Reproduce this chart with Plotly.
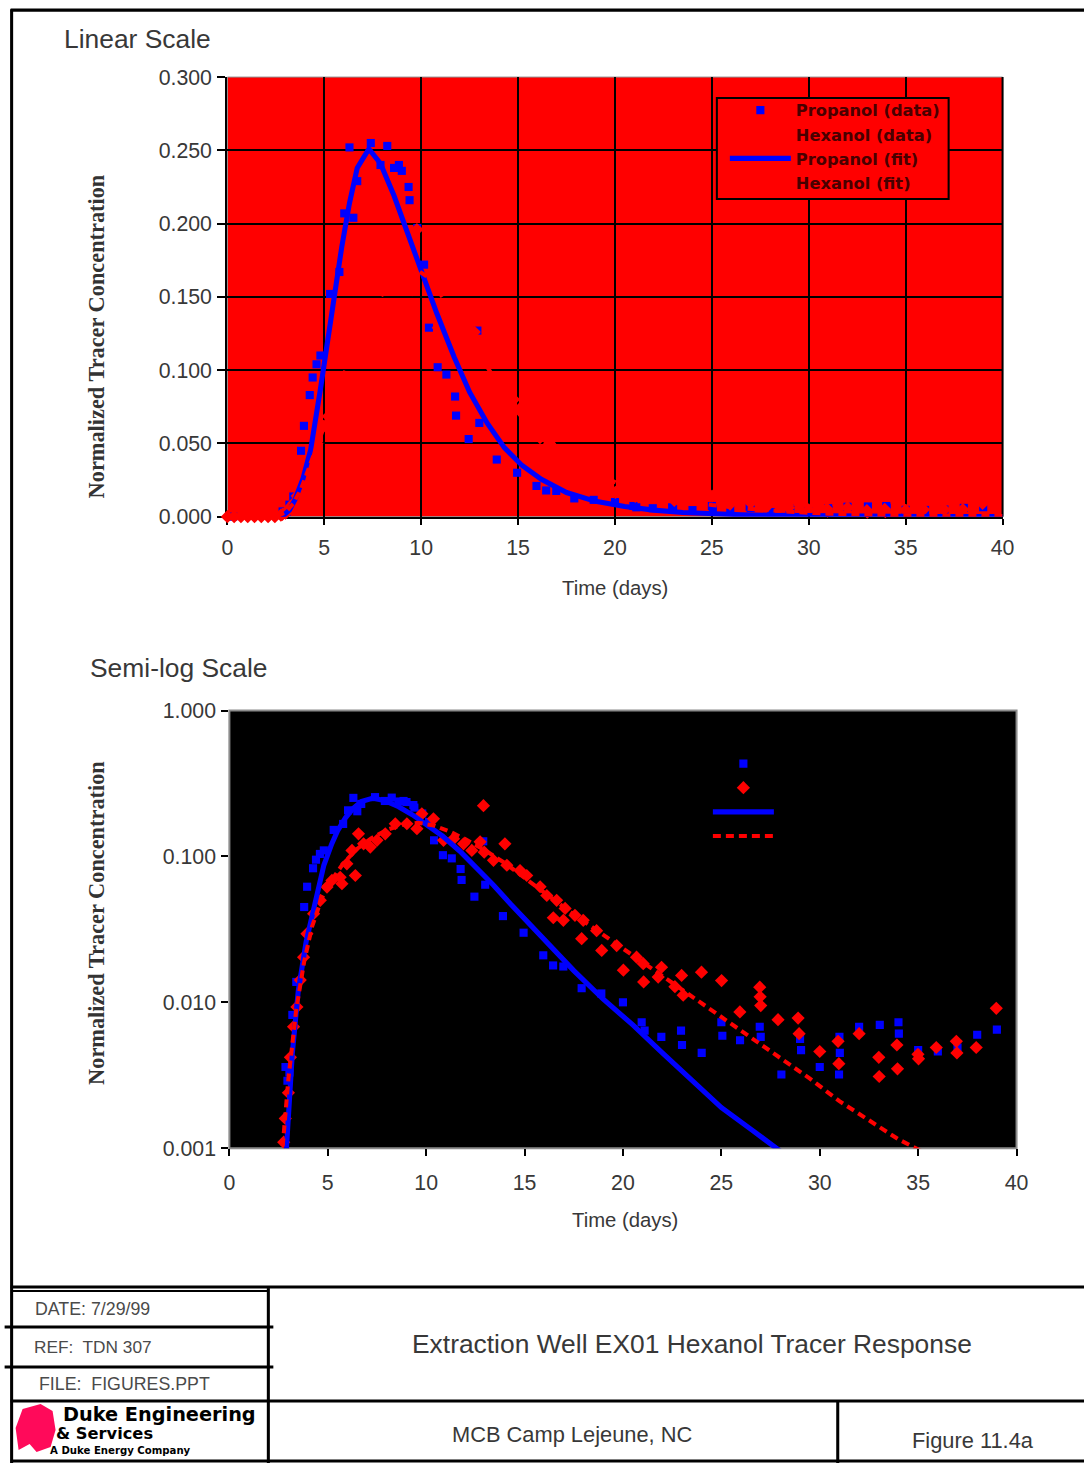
import plotly.graph_objects as go

# ---------------------------------------------------------------------------
# Tracer breakthrough at extraction well EX01 (time in days, C/C0)
# ---------------------------------------------------------------------------
propanol_t = [0.3, 2.85, 2.95, 3.05, 3.2, 3.4, 3.8, 3.95, 4.25, 4.4, 4.6, 4.8,
              5.3, 5.78, 6.03, 6.3, 6.5, 6.7, 7.4, 7.9, 8.25, 8.6, 8.85, 9.0,
              9.35, 9.4, 9.8, 10.15, 10.4, 10.85, 11.3, 11.75, 11.8, 12.45,
              12.9, 13.0, 13.9, 14.95, 15.95, 16.45, 16.97, 17.9, 18.9, 20.0,
              20.95, 21.1, 21.95, 22.95, 23.0, 24.0, 25.0, 25.05, 25.95, 26.95,
              27.0, 28.05, 29.0, 29.05, 30.0, 30.98, 31.0, 31.02, 32.0, 33.05,
              34.0, 34.02, 35.0, 36.0, 37.0, 38.0, 39.0]
propanol_c = [0.0, 0.0036, 0.0029, 0.0033, 0.0082, 0.0138, 0.045, 0.062, 0.083,
              0.095, 0.104, 0.110, 0.152, 0.167, 0.207, 0.252, 0.204, 0.229,
              0.255, 0.240, 0.253, 0.238, 0.240, 0.236, 0.225, 0.216, 0.197,
              0.172, 0.129, 0.102, 0.097, 0.082, 0.069, 0.053, 0.127, 0.064,
              0.039, 0.030, 0.021, 0.0179, 0.0176, 0.0125, 0.0115, 0.0100,
              0.0073, 0.0064, 0.0058, 0.0064, 0.0051, 0.0045, 0.0073, 0.0059,
              0.0055, 0.0068, 0.0058, 0.0032, 0.0056, 0.0047, 0.0036, 0.0032,
              0.0058, 0.0045, 0.0068, 0.0070, 0.0073, 0.0061, 0.0047, 0.0046,
              0.0049, 0.0060, 0.0065]

hexanol_t = [0.0, 0.35, 0.7, 1.05, 1.4, 1.75, 2.1, 2.45, 2.76, 2.84, 3.0, 3.1,
             3.26, 3.43, 3.6, 3.77, 3.94, 4.28, 4.62, 4.96, 5.21, 5.63, 5.72,
             5.97, 6.23, 6.4, 6.56, 6.82, 7.16, 7.5, 7.92, 8.43, 9.02, 9.53,
             9.78, 10.37, 10.88, 11.39, 11.9, 12.32, 12.74, 12.91, 12.95,
             13.42, 14.0, 14.1, 14.77, 15.11, 15.79, 16.13, 16.46, 16.63,
             16.97, 17.06, 17.56, 17.9, 17.98, 18.66, 18.92, 19.68, 20.02,
             20.69, 21.03, 21.05, 21.79, 21.96, 22.64, 22.98, 23.06, 23.99,
             25.01, 25.94, 26.95, 26.97, 27.0, 27.88, 28.9, 28.95, 30.0, 30.93,
             30.97, 32.0, 33.0, 33.02, 33.92, 33.95, 34.99, 35.02, 35.92,
             36.94, 36.97, 37.95, 38.97]
hexanol_c = [0.0, 0.0, 0.0, 0.0, 0.0, 0.0, 0.0, 0.0, 0.0011, 0.0016, 0.0024,
             0.0042, 0.0068, 0.0093, 0.0142, 0.0204, 0.0295, 0.0405, 0.050,
             0.0617, 0.0685, 0.072, 0.065, 0.089, 0.110, 0.074, 0.143, 0.122,
             0.116, 0.129, 0.143, 0.1675, 0.1675, 0.155, 0.196, 0.181, 0.129,
             0.132, 0.122, 0.110, 0.126, 0.223, 0.107, 0.094, 0.122, 0.087,
             0.080, 0.074, 0.062, 0.054, 0.038, 0.050, 0.0365, 0.044, 0.0395,
             0.0273, 0.0365, 0.031, 0.0227, 0.0245, 0.0166, 0.0204, 0.0184,
             0.0138, 0.0149, 0.0174, 0.0128, 0.0153, 0.0112, 0.0161, 0.0141,
             0.0086, 0.0127, 0.0109, 0.0095, 0.0076, 0.0078, 0.0061, 0.0046,
             0.0054, 0.0038, 0.0061, 0.0042, 0.0031, 0.0051, 0.0035, 0.0044,
             0.0041, 0.0049, 0.0054, 0.0045, 0.0049, 0.0091]

propanol_fit_t = [2.75, 2.9, 3.2, 3.5, 3.9, 4.3, 4.8, 5.2, 5.5, 5.9, 6.3, 6.7,
                  7.3, 7.9, 8.6, 9.3, 10.0, 10.8, 11.7, 12.5, 13.4, 14.3, 15.2,
                  16.2, 17.5, 19.0, 20.5, 22.0, 23.5, 25.0, 26.5, 28.0, 30.0,
                  32.0, 34.0, 36.0, 38.0, 40.0]
propanol_fit_c = [0.0002, 0.001, 0.0045, 0.012, 0.026, 0.046, 0.087, 0.122,
                  0.150, 0.184, 0.214, 0.238, 0.251, 0.241, 0.219, 0.193,
                  0.167, 0.139, 0.109, 0.085, 0.064, 0.047, 0.035, 0.0255,
                  0.0165, 0.0105, 0.0070, 0.0045, 0.0029, 0.0019, 0.00135,
                  0.00095, 0.0006, 0.0004, 0.00025, 0.00016, 0.0001, 0.00006]

hexanol_fit_t = [2.55, 2.7, 3.0, 3.4, 3.8, 4.2, 4.7, 5.2, 5.8, 6.5, 7.2, 8.0,
                 8.8, 9.6, 10.4, 11.2, 12.0, 13.0, 14.0, 15.0, 16.0, 17.5, 19.0,
                 20.5, 22.0, 23.5, 25.0, 26.5, 28.0, 29.5, 31.0, 32.5, 34.0,
                 35.2, 37.0, 38.5, 40.0]
hexanol_fit_c = [0.0002, 0.001, 0.003, 0.009, 0.019, 0.033, 0.052, 0.069, 0.090,
                 0.113, 0.133, 0.152, 0.165, 0.170, 0.163, 0.148, 0.131, 0.110,
                 0.090, 0.071, 0.056, 0.040, 0.029, 0.021, 0.0152, 0.0110,
                 0.0080, 0.0058, 0.0042, 0.0030, 0.0021, 0.00155, 0.00115,
                 0.00095, 0.0007, 0.00055, 0.00043]

series_names = ["Propanol (data)", "Hexanol (data)", "Propanol (fit)", "Hexanol (fit)"]
time_ticks = [0, 5, 10, 15, 20, 25, 30, 35, 40]
linear_ticks = [0.0, 0.05, 0.10, 0.15, 0.20, 0.25, 0.30]
log_ticks = [0.001, 0.01, 0.1, 1.0]

# ---------------------------------------------------------------------------
# Sheet geometry. Positions below are given in sheet pixels; the sheet is
# captured at 1084 px across from a 1101 px wide page area, and the html
# body keeps its default 8 px margin around the figure.
SCALE = 1084 / 1101
BODY_MARGIN = 8
SHIFT_X, SHIFT_Y = 2.5, -3.0
W, H = 1092, 1478


def fx(px):
    return ((px + SHIFT_X) / SCALE - BODY_MARGIN) / W


def fy(py):
    return 1 - ((py + SHIFT_Y) / SCALE - BODY_MARGIN) / H


def k(v):
    return v / SCALE


BLUE = "#0000ff"
RED = "#ff0000"
TXT = "#383838"
SANS = "Liberation Sans, Arial, sans-serif"
SERIF = "Liberation Serif, Times New Roman, serif"

fig = go.Figure()


def add_series(xa, ya, legend, clip):
    fig.add_trace(go.Scatter(
        x=propanol_t, y=propanol_c, mode="markers", name=series_names[0],
        marker=dict(symbol="square", size=k(8), color=BLUE, line=dict(width=0)),
        xaxis=xa, yaxis=ya, legend=legend, cliponaxis=clip))
    fig.add_trace(go.Scatter(
        x=hexanol_t, y=hexanol_c, mode="markers", name=series_names[1],
        marker=dict(symbol="diamond", size=k(10), color=RED, line=dict(width=0)),
        xaxis=xa, yaxis=ya, legend=legend, cliponaxis=clip))
    fig.add_trace(go.Scatter(
        x=propanol_fit_t, y=propanol_fit_c, mode="lines", name=series_names[2],
        line=dict(color=BLUE, width=k(5)),
        xaxis=xa, yaxis=ya, legend=legend))
    fig.add_trace(go.Scatter(
        x=hexanol_fit_t, y=hexanol_fit_c, mode="lines", name=series_names[3],
        line=dict(color=RED, width=k(4), dash="8px,5px"),
        xaxis=xa, yaxis=ya, legend=legend))


add_series("x", "y", "legend", False)
add_series("x2", "y2", "legend2", True)

tick_font = dict(family=SANS, size=k(21), color=TXT)

axis_common = dict(ticks="outside", tickcolor="black", tickwidth=k(2),
                   tickfont=tick_font, zeroline=False, layer="below traces")

legend_font = dict(family="DejaVu Sans", size=k(16), weight="bold")

fig.update_layout(
    width=W, height=H,
    margin=dict(l=0, r=0, t=0, b=0),
    paper_bgcolor="white", plot_bgcolor="rgba(0,0,0,0)",
    xaxis=dict(domain=[fx(227), fx(1003)], anchor="y", range=[0, 40],
               tickvals=time_ticks, showgrid=True, gridcolor="black",
               gridwidth=k(2), showline=True, linecolor="black",
               linewidth=k(2), ticklen=k(6), ticklabelstandoff=5,
               **axis_common),
    yaxis=dict(domain=[fy(516), fy(76)], anchor="x", range=[0, 0.3],
               tickvals=linear_ticks, tickformat=".3f", showgrid=True,
               gridcolor="black", gridwidth=k(2), showline=True,
               linecolor="black", linewidth=k(2), ticklen=k(8),
               ticklabelstandoff=1, **axis_common),
    xaxis2=dict(domain=[fx(229), fx(1017)], anchor="y2", range=[0, 40],
                tickvals=time_ticks, showgrid=False, showline=False,
                ticklen=k(7), ticklabelstandoff=8, **axis_common),
    yaxis2=dict(domain=[fy(1148), fy(710)], anchor="x2", type="log",
                range=[-3, 0], tickvals=log_ticks, tickformat=".3f",
                showgrid=False, showline=False, ticklen=k(7),
                ticklabelstandoff=1, **axis_common),
    legend=dict(x=fx(725), y=fy(92), xanchor="left", yanchor="top",
                bgcolor="rgba(0,0,0,0)", borderwidth=0,
                itemwidth=61, tracegroupgap=0,
                font=dict(color="#480000", **legend_font)),
    legend2=dict(x=fx(708), y=fy(746), xanchor="left", yanchor="top",
                 bgcolor="rgba(0,0,0,0)", borderwidth=0,
                 itemwidth=61, tracegroupgap=0,
                 font=dict(color="black", **legend_font)),
    showlegend=True,
)

shapes = [
    # plot areas
    dict(type="rect", xref="x domain", yref="y domain", x0=0, x1=1, y0=0, y1=1,
         fillcolor=RED, line=dict(color="#909090", width=1), layer="below"),
    dict(type="line", xref="x domain", yref="y domain", x0=1, x1=1, y0=0, y1=1,
         line=dict(color="black", width=k(2)), layer="below"),
    dict(type="rect", xref="x2 domain", yref="y2 domain", x0=0, x1=1, y0=0,
         y1=1, fillcolor="black", line=dict(color="#8c8c8c", width=k(2)),
         layer="below"),
    # legend frame of the linear plot
    dict(type="rect", xref="paper", yref="paper", x0=fx(717), x1=fx(949),
         y0=fy(198), y1=fy(97), line=dict(color="black", width=k(2)),
         fillcolor=RED, layer="above"),
]


def pline(x0, y0, x1, y1, w=3):
    shapes.append(dict(type="line", xref="paper", yref="paper",
                       x0=fx(x0), y0=fy(y0), x1=fx(x1), y1=fy(y1),
                       line=dict(color="black", width=k(w)), layer="above"))


# page frame and title block
pline(11, 8, 11, 1466)
pline(10, 9, 1090, 9)
pline(10, 1287, 1090, 1287)
pline(12, 1291, 268, 1291, 2)
pline(4, 1327, 273, 1327)
pline(4, 1367, 273, 1367)
pline(10, 1401, 1090, 1401)
pline(268, 1288, 268, 1466)
pline(838, 1401, 838, 1466)
pline(10, 1461, 1090, 1461)

# company mark
shapes.append(dict(
    type="path", xref="paper", yref="paper",
    path="M {},{} L {},{} L {},{} L {},{} L {},{} L {},{} L {},{} L {},{} L {},{} Z".format(
        fx(22), fy(1409), fx(40), fy(1404), fx(52), fy(1411), fx(55), fy(1430),
        fx(50), fy(1447), fx(36), fy(1452), fx(29), fy(1444), fx(18), fy(1450),
        fx(15), fy(1428)),
    fillcolor="#ff0a5a", line=dict(width=0), layer="above"))

fig.update_layout(shapes=shapes)


def note(text, x, y, size, color=TXT, family=SANS, xanchor="left", angle=0):
    fig.add_annotation(text=text, x=fx(x), y=fy(y), xref="paper", yref="paper",
                       xanchor=xanchor, yanchor="middle", showarrow=False,
                       textangle=angle,
                       font=dict(family=family, size=k(size), color=color))


note("Linear Scale", 61, 38, 26)
note("Semi-log Scale", 87, 667, 26)
note("<b>Normalized Tracer Concentration</b>", 96, 336, 22, color="#333333",
     family=SERIF, xanchor="center", angle=-90)
note("<b>Normalized Tracer Concentration</b>", 96, 923, 22, color="#333333",
     family=SERIF, xanchor="center", angle=-90)
note("Time (days)", 615, 587, 20, xanchor="center")
note("Time (days)", 625, 1220, 20, xanchor="center")

note("DATE: 7/29/99", 32, 1309, 17.5, color="#4a4a4a")
note("REF:\u00a0 TDN 307", 31, 1347, 17, color="#4a4a4a")
note("FILE:\u00a0 FIGURES.PPT", 36, 1384, 17.5, color="#4a4a4a")
note("Extraction Well EX01 Hexanol Tracer Response", 692, 1344, 26,
     xanchor="center")
note("MCB Camp Lejeune, NC", 572, 1435, 21.5, xanchor="center")
note("Figure 11.4a", 973, 1441, 21.5, xanchor="center")

note("<b>Duke Engineering</b>", 60, 1415, 19, color="black",
     family="DejaVu Sans")
note("<b>&amp; Services</b>", 53, 1434, 16, color="black", family="DejaVu Sans")
note("<b>A Duke Energy Company</b>", 47, 1451, 10, color="black",
     family="DejaVu Sans")

fig.write_html("out.html")
